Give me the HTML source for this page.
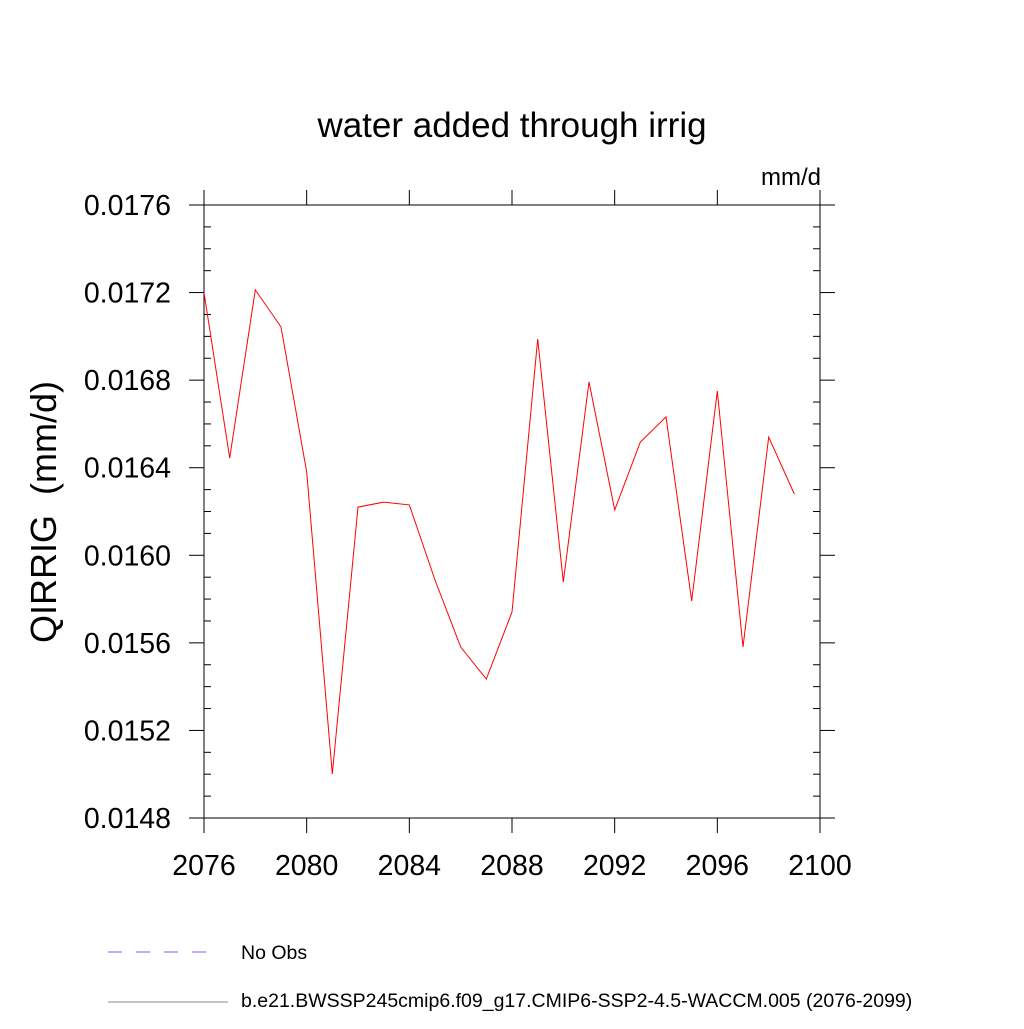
<!DOCTYPE html>
<html><head><meta charset="utf-8"><style>
html,body{margin:0;padding:0;background:#fff;}
svg text{font-family:"Liberation Sans",sans-serif;fill:#000;}
</style></head><body>
<svg id="chart" width="1024" height="1024" xmlns="http://www.w3.org/2000/svg">
<text x="512" y="137" font-size="35" text-anchor="middle">water added through irrig</text>
<text x="821" y="185" font-size="24" text-anchor="end">mm/d</text>
<text transform="translate(56,512) rotate(-90)" font-size="36" text-anchor="middle" xml:space="preserve">QIRRIG  (mm/d)</text>
<g id="axes"></g>
<path id="series" fill="none" stroke="#ff0000" stroke-width="1"/>
<line x1="108" y1="952" x2="216" y2="952" stroke="#6666ff" stroke-width="1" stroke-dasharray="14,14"/>
<text x="241" y="959" font-size="19.5">No Obs</text>
<line x1="108" y1="1002" x2="228" y2="1002" stroke="#888" stroke-width="1"/>
<text x="241" y="1007" font-size="19.5">b.e21.BWSSP245cmip6.f09_g17.CMIP6-SSP2-4.5-WACCM.005 (2076-2099)</text>
</svg>
<script>
const years=[2076,2077,2078,2079,2080,2081,2082,2083,2084,2085,2086,2087,2088,2089,2090,2091,2092,2093,2094,2095,2096,2097,2098,2099];
const values=[0.01720,0.016444,0.017212,0.017043,0.01638,0.015001,0.01622,0.016243,0.01623,0.015887,0.015581,0.015435,0.015741,0.016988,0.015878,0.016792,0.016207,0.016517,0.016632,0.015791,0.01675,0.015581,0.01654,0.01628];
const xTicks=[2076,2080,2084,2088,2092,2096,2100];
const yTicks=[0.0148,0.0152,0.0156,0.0160,0.0164,0.0168,0.0172,0.0176];
const L=204,R=820,T=205,B=818,X0=2076,X1=2100,Y0=0.0148,Y1=0.0176;
const sx=v=>L+(v-X0)/(X1-X0)*(R-L);
const sy=v=>B-(v-Y0)/(Y1-Y0)*(B-T);
const NS="http://www.w3.org/2000/svg";
const g=document.getElementById('axes');
function ln(x1,y1,x2,y2,name){const e=document.createElementNS(NS,'line');
e.setAttribute('x1',x1);e.setAttribute('y1',y1);e.setAttribute('x2',x2);e.setAttribute('y2',y2);
e.setAttribute('stroke','#000');e.setAttribute('stroke-width','1');


g.appendChild(e);}
function tx(x,y,s,anchor,name){const e=document.createElementNS(NS,'text');
e.setAttribute('x',x);e.setAttribute('y',y);e.setAttribute('font-size','28.5');e.setAttribute('text-anchor',anchor);e.textContent=s;


g.appendChild(e);}
ln(L,T,R,T,'plot-frame-top');ln(L,B,R,B,'plot-frame-bottom');ln(L,T,L,B,'plot-frame-left');ln(R,T,R,B,'plot-frame-right');
xTicks.forEach(v=>{const x=sx(v);ln(x,B,x,B+15,'x-tick');ln(x,T,x,T-15,'x-tick-top');tx(x,B+57,String(v),'middle','x-tick-label');});
yTicks.forEach(v=>{const y=sy(v);ln(L,y,L-15,y,'y-tick');ln(R,y,R+15,y,'y-tick-right');tx(L-33,y+10,v.toFixed(4),'end','y-tick-label');});
for(let i=0;i<yTicks.length-1;i++){for(let k=1;k<4;k++){const y=sy(yTicks[i]+(yTicks[i+1]-yTicks[i])*k/4);ln(L,y,L+7,y,'y-minor-tick');ln(R,y,R-7,y,'y-minor-tick-right');}}
document.getElementById('series').setAttribute('d',years.map((yr,i)=>(i?'L':'M')+sx(yr).toFixed(1)+','+sy(values[i]).toFixed(1)).join(' '));
</script>
</body></html>
